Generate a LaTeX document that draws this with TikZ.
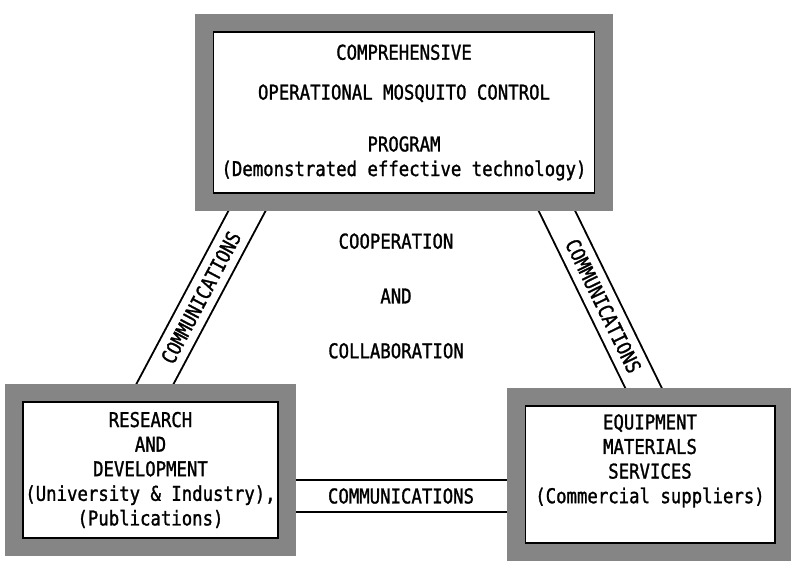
\documentclass[tikz,border=0pt]{standalone}
\usepackage{fontspec}
\newfontfamily\typefont[FakeStretch=0.85,FakeBold=1.3]{DejaVu Sans Mono}
\usetikzlibrary{backgrounds}
\definecolor{framegray}{gray}{0.52}
\begin{document}
\begin{tikzpicture}[x=0.02cm,y=-0.02cm,
  txt/.style={font=\typefont\fontsize{11.6}{14}\selectfont, align=center},
  frame/.style={txt, draw=black, line width=0.6pt, fill=white, inner sep=0pt,
    preaction={draw=framegray, line width=0.72cm}},
  band/.style={draw=black, line width=1.1pt, double=white, double distance=17.5pt}]
\useasboundingbox (0,0) rectangle (791,561);
% the three partners
\node[frame, minimum width=7.64cm, minimum height=3.22cm] (prog) at (404,112.5)
  {COMPREHENSIVE\\[8.7pt] OPERATIONAL MOSQUITO CONTROL\\[15.5pt] PROGRAM\\ (Demonstrated effective technology)};
\node[frame, minimum width=5.10cm, minimum height=2.72cm] (resdev) at (150.5,470)
  {RESEARCH\\ AND\\ DEVELOPMENT\\ (University \& Industry),\\ (Publications)};
\node[frame, minimum width=5.00cm, minimum height=2.74cm] (equip) at (650,474.5)
  {EQUIPMENT\\ MATERIALS\\ SERVICES\\ (Commercial suppliers)\\[4pt]};
\node[txt] (coop) at (396,296) {COOPERATION\\[17.2pt] AND\\[17.2pt] COLLABORATION};
% communication bands
\begin{scope}[on background layer]
\coordinate (lt) at (252.8,200);
\coordinate (lb) at (149.1,395);
\coordinate (rt) at (551.6,200);
\coordinate (rb) at (649.4,400);
\coordinate (bl) at (286,496);
\coordinate (br) at (516,496);
\draw[band] (lt) -- (lb) node[txt, midway, sloped] (lcom) {COMMUNICATIONS};
\draw[band] (rt) -- (rb) node[txt, pos=0.53, sloped] (rcom) {COMMUNICATIONS};
\draw[band] (bl) -- (br) node[txt, midway] (bcom) {COMMUNICATIONS};
\end{scope}
\end{tikzpicture}
\end{document}
